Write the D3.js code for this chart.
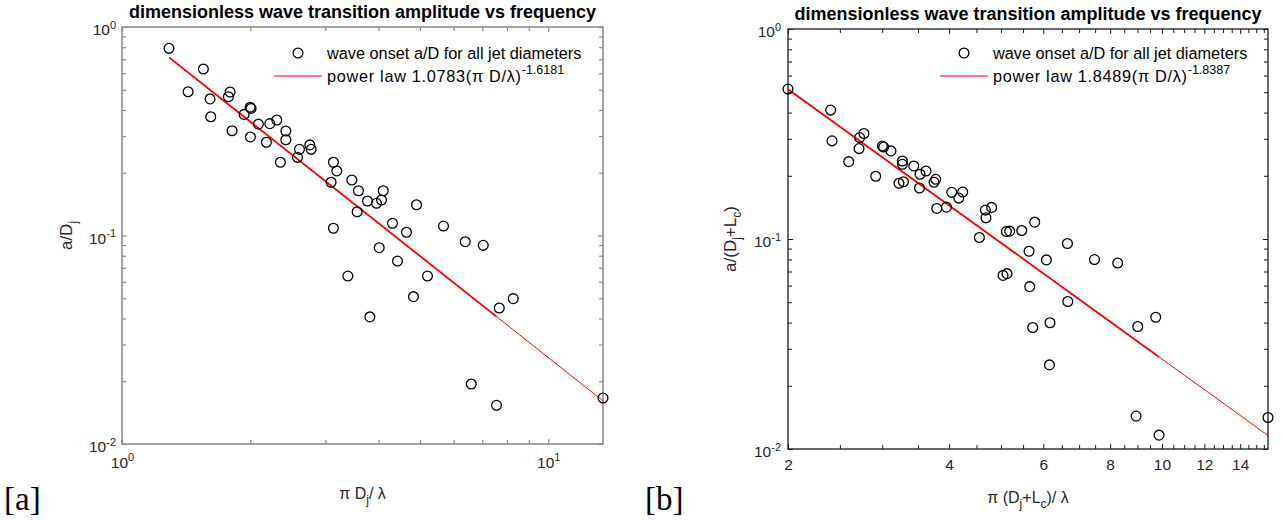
<!DOCTYPE html>
<html><head><meta charset="utf-8">
<script src="https://cdn.jsdelivr.net/npm/d3@7"></script>
<style>
body{margin:0;background:#fff}
svg{display:block;font-family:"Liberation Sans",Arial,Helvetica,sans-serif}
</style>
</head><body>
<svg id="chart" width="1283" height="520"></svg>
<script>
// ---------------- data ----------------
const titleText = "dimensionless wave transition amplitude vs frequency";
const markerLegend = "wave onset a/D for all jet diameters";

const leftX = [1.289,1.552,1.429,1.609,1.793,1.777,1.615,1.812,1.934,2.008,1.998,2.089,2.001,2.222,2.307,2.182,2.423,2.423,2.353,2.608,2.580,2.758,2.778,3.133,3.191,3.094,3.461,3.587,3.562,3.133,3.766,3.954,4.062,4.100,4.908,4.311,4.649,4.012,4.429,3.387,5.208,4.828,3.815,5.679,6.386,7.038,7.674,8.276,6.596,7.561,13.44];
const leftY = [0.790,0.629,0.489,0.452,0.488,0.463,0.371,0.318,0.381,0.407,0.412,0.342,0.297,0.344,0.358,0.280,0.317,0.288,0.2245,0.259,0.237,0.272,0.259,0.2245,0.204,0.180,0.1846,0.164,0.130,0.1083,0.1464,0.1427,0.148,0.164,0.1405,0.1144,0.1036,0.0874,0.0754,0.0639,0.0639,0.0509,0.0407,0.1110,0.0934,0.0897,0.0449,0.0498,0.0194,0.01533,0.01662];

const rightX = [2.0,2.403,2.417,2.597,2.722,2.773,2.715,2.917,3.002,3.019,3.115,3.272,3.272,3.436,3.224,3.287,3.530,3.622,3.521,3.777,3.749,4.046,4.242,4.170,3.794,3.955,4.676,4.804,4.688,4.557,5.119,5.192,5.468,5.045,5.132,5.783,5.643,6.081,6.657,7.478,8.264,5.660,6.667,5.733,6.176,9.009,9.734,6.161,8.945,9.874,15.78];
const rightY = [0.518,0.411,0.2933,0.2335,0.304,0.318,0.2695,0.199,0.277,0.274,0.2627,0.2353,0.227,0.2228,0.1842,0.1874,0.2033,0.2108,0.1749,0.1924,0.1862,0.1668,0.1674,0.1566,0.1398,0.1418,0.1373,0.1414,0.1261,0.1017,0.1086,0.109,0.1098,0.0671,0.0684,0.1203,0.0874,0.0795,0.0952,0.0798,0.0769,0.0593,0.0504,0.0379,0.0399,0.0383,0.0424,0.02515,0.01434,0.01164,0.01413];

const leftFitCoef = 1.0783, leftFitExp = -1.6181, leftFitDenseEnd = 7.561;
const rightFitCoef = 1.8489, rightFitExp = -1.8387, rightFitDenseEnd = 9.874;

const leftXTicks = [1, 10];
const leftXTickLabels = [["10","0"],["10","1"]];
const rightXTicks = [2,4,6,8,10,12,14];
const rightXTickLabels = ["2","4","6","8","10","12","14"];
const yTicks = [0.01, 0.1, 1];
const yTickLabels = [["10","-2"],["10","-1"],["10","0"]];

const leftFitLabel = ["power law 1.0783(\u03C0 D/\u03BB)", "-1.6181"];
const rightFitLabel = ["power law 1.8489(\u03C0 D/\u03BB)", "-1.8387"];

// ---------------- drawing ----------------
const svg = d3.select("#chart");
svg.append("rect").attr("width",1283).attr("height",520).attr("fill","#fff");

function minorLog(lo, hi){
  const out=[];
  for(let e=Math.floor(Math.log10(lo)); e<=Math.ceil(Math.log10(hi)); e++){
    for(let m=2;m<=9;m++){const v=m*Math.pow(10,e); if(v>lo && v<hi) out.push(v);}
  }
  return out;
}

function supText(sel, base, exp, size, supSize){
  sel.text(null);
  sel.append("tspan").text(base);
  sel.append("tspan").attr("dy", -0.42*size).attr("font-size", supSize).text(exp);
}

function panel(cfg){
  const g = svg.append("g");
  const x = d3.scaleLog().domain(cfg.xDomain).range([cfg.x0, cfg.x1]);
  const y = d3.scaleLog().domain([0.01, 1]).range([cfg.y1, cfg.y0]);
  const ac = cfg.axisColor;

  const xMinor = cfg.xMinor, yMinor = minorLog(0.01, 1);
  const tick = (axis, tr) => {
    const a = g.append("g").attr("transform", tr).call(axis);
    a.attr("font-family", null);
    a.selectAll("path").remove();
    a.selectAll("line").attr("stroke", ac).attr("stroke-width", cfg.tickW);
    return a;
  };
  tick(d3.axisBottom(x).tickValues(xMinor).tickSize(-4).tickFormat(""), `translate(0,${cfg.y1})`);
  tick(d3.axisTop(x).tickValues(xMinor).tickSize(-4).tickFormat(""), `translate(0,${cfg.y0})`);
  tick(d3.axisLeft(y).tickValues(yMinor).tickSize(-4).tickFormat(""), `translate(${cfg.x0},0)`);
  tick(d3.axisRight(y).tickValues(yMinor).tickSize(-4).tickFormat(""), `translate(${cfg.x1},0)`);

  const bx = tick(d3.axisBottom(x).tickValues(cfg.xTicks).tickSize(-5).tickPadding(cfg.xPad)
      .tickFormat((d,i)=>i), `translate(0,${cfg.y1})`);
  bx.selectAll("text").attr("fill","#262626").attr("font-size",cfg.tickFont)
    .each(function(d,i){
      const lab = cfg.xTickLabels[i];
      if(Array.isArray(lab)) supText(d3.select(this), lab[0], lab[1], cfg.tickFont, cfg.supFont);
      else d3.select(this).text(lab);
    });
  tick(d3.axisTop(x).tickValues(cfg.xTicks).tickSize(-5).tickFormat(""), `translate(0,${cfg.y0})`);
  const ly = tick(d3.axisLeft(y).tickValues(yTicks).tickSize(-5).tickPadding(cfg.yPad)
      .tickFormat((d,i)=>i), `translate(${cfg.x0},0)`);
  ly.selectAll("text").attr("fill","#262626").attr("font-size",cfg.tickFont).attr("dy","0.5em")
    .each(function(d,i){ supText(d3.select(this), yTickLabels[i][0], yTickLabels[i][1], cfg.tickFont, cfg.supFont); });
  tick(d3.axisRight(y).tickValues(yTicks).tickSize(-5).tickFormat(""), `translate(${cfg.x1},0)`);

  g.append("rect").attr("x",cfg.x0).attr("y",cfg.y0).attr("width",cfg.x1-cfg.x0).attr("height",cfg.y1-cfg.y0)
    .attr("fill","none").attr("stroke",ac).attr("stroke-width",cfg.boxW);

  // fit line
  const xs = cfg.xs, ys = cfg.ys;
  const xmin = d3.min(xs), xmax = d3.max(xs);
  const fit = v => cfg.coef*Math.pow(v, cfg.expo);
  const line = d3.line().x(d=>x(d)).y(d=>y(fit(d)));
  g.append("path").attr("d", line([xmin, xmax])).attr("stroke","#ff0000").attr("stroke-width",1).attr("fill","none");
  g.append("path").attr("d", line([xmin, cfg.denseEnd])).attr("stroke","#ff0000").attr("stroke-width",1.8).attr("fill","none");

  // markers
  g.append("g").selectAll("circle").data(xs.map((v,i)=>[v, ys[i]])).join("circle")
    .attr("cx",d=>x(d[0])).attr("cy",d=>y(d[1])).attr("r",4.9)
    .attr("fill","none").attr("stroke","#000").attr("stroke-width",1.3);

  // title
  g.append("text").attr("x",(cfg.x0+cfg.x1)/2).attr("y",cfg.y0-9).attr("text-anchor","middle")
    .attr("font-size",18).attr("font-weight","bold").attr("fill","#000").text(titleText);

  // legend
  const lx = cfg.legX;
  g.append("circle").attr("cx",lx).attr("cy",cfg.legY1).attr("r",4.9).attr("fill","none").attr("stroke","#000").attr("stroke-width",1.3);
  g.append("text").attr("x",lx+29).attr("y",cfg.legY1+5.5).attr("font-size",16.3).attr("fill","#000").text(markerLegend);
  g.append("line").attr("x1",lx-24).attr("x2",lx+24).attr("y1",cfg.legY2).attr("y2",cfg.legY2).attr("stroke","#ff0000").attr("stroke-width",1);
  const ft = g.append("text").attr("x",lx+29).attr("y",cfg.legY2+5.5).attr("font-size",16.3).attr("fill","#000");
  ft.append("tspan").attr("letter-spacing",0.7).text(cfg.fitLabel[0]);
  ft.append("tspan").attr("dy",-7.5).attr("font-size",12.5).text(cfg.fitLabel[1]);

  // axis labels
  const xl = g.append("text").attr("x",(cfg.x0+cfg.x1)/2).attr("y",cfg.xLabelY).attr("text-anchor","middle")
    .attr("font-size",16).attr("fill","#262626");
  cfg.xLabel(xl);
  const yl = g.append("text").attr("transform",`translate(${cfg.yLabelX},${(cfg.y0+cfg.y1)/2}) rotate(-90)`)
    .attr("text-anchor","middle").attr("font-size",17).attr("fill","#262626");
  cfg.yLabel(yl);

  // panel letter
  svg.append("text").attr("x",cfg.letterX).attr("y",cfg.letterY)
    .style("font-family","'Liberation Serif','DejaVu Serif',serif")
    .attr("font-size",33).attr("fill","#000").text(cfg.letter);
}

function sub(t, s){ t.append("tspan").attr("dy",5).attr("font-size",12).text(s); }
function unsub(t, s){ t.append("tspan").attr("dy",-5).text(s); }

panel({
  x0:122, x1:603, y0:27, y1:444, xDomain:[1, d3.max(leftX)],
  xs:leftX, ys:leftY, coef:leftFitCoef, expo:leftFitExp, denseEnd:leftFitDenseEnd,
  xTicks:leftXTicks, xTickLabels:leftXTickLabels, xMinor:minorLog(1, d3.max(leftX)),
  axisColor:"#8c8c8c", boxW:1.6, tickW:1.2, tickFont:15.5, supFont:11, xPad:13, yPad:6,
  legX:298, legY1:53, legY2:76, fitLabel:leftFitLabel,
  xLabelY:499, yLabelX:72,
  xLabel: t=>{ t.append("tspan").text("\u03C0 D"); sub(t,"j"); unsub(t,"/ \u03BB"); },
  yLabel: t=>{ t.append("tspan").text("a/D"); sub(t,"j"); },
  letter:"[a]", letterX:4, letterY:510
});

panel({
  x0:788, x1:1268, y0:29, y1:449, xDomain:[2, d3.max(rightX)],
  xs:rightX, ys:rightY, coef:rightFitCoef, expo:rightFitExp, denseEnd:rightFitDenseEnd,
  xTicks:rightXTicks, xTickLabels:rightXTickLabels, xMinor:d3.range(2.5, 15.6, 0.5).filter(v=>v%2!==0),
  axisColor:"#1a1a1a", boxW:1.3, tickW:1, tickFont:15.5, supFont:11, xPad:10, yPad:7,
  legX:964, legY1:53, legY2:76, fitLabel:rightFitLabel,
  xLabelY:503, yLabelX:736,
  xLabel: t=>{ t.append("tspan").text("\u03C0 (D"); sub(t,"j"); unsub(t,"+L"); sub(t,"c"); unsub(t,")/ \u03BB"); },
  yLabel: t=>{ t.append("tspan").text("a/(D"); sub(t,"j"); unsub(t,"+L"); sub(t,"c"); unsub(t,")"); },
  letter:"[b]", letterX:645, letterY:510
});
</script>
</body></html>
